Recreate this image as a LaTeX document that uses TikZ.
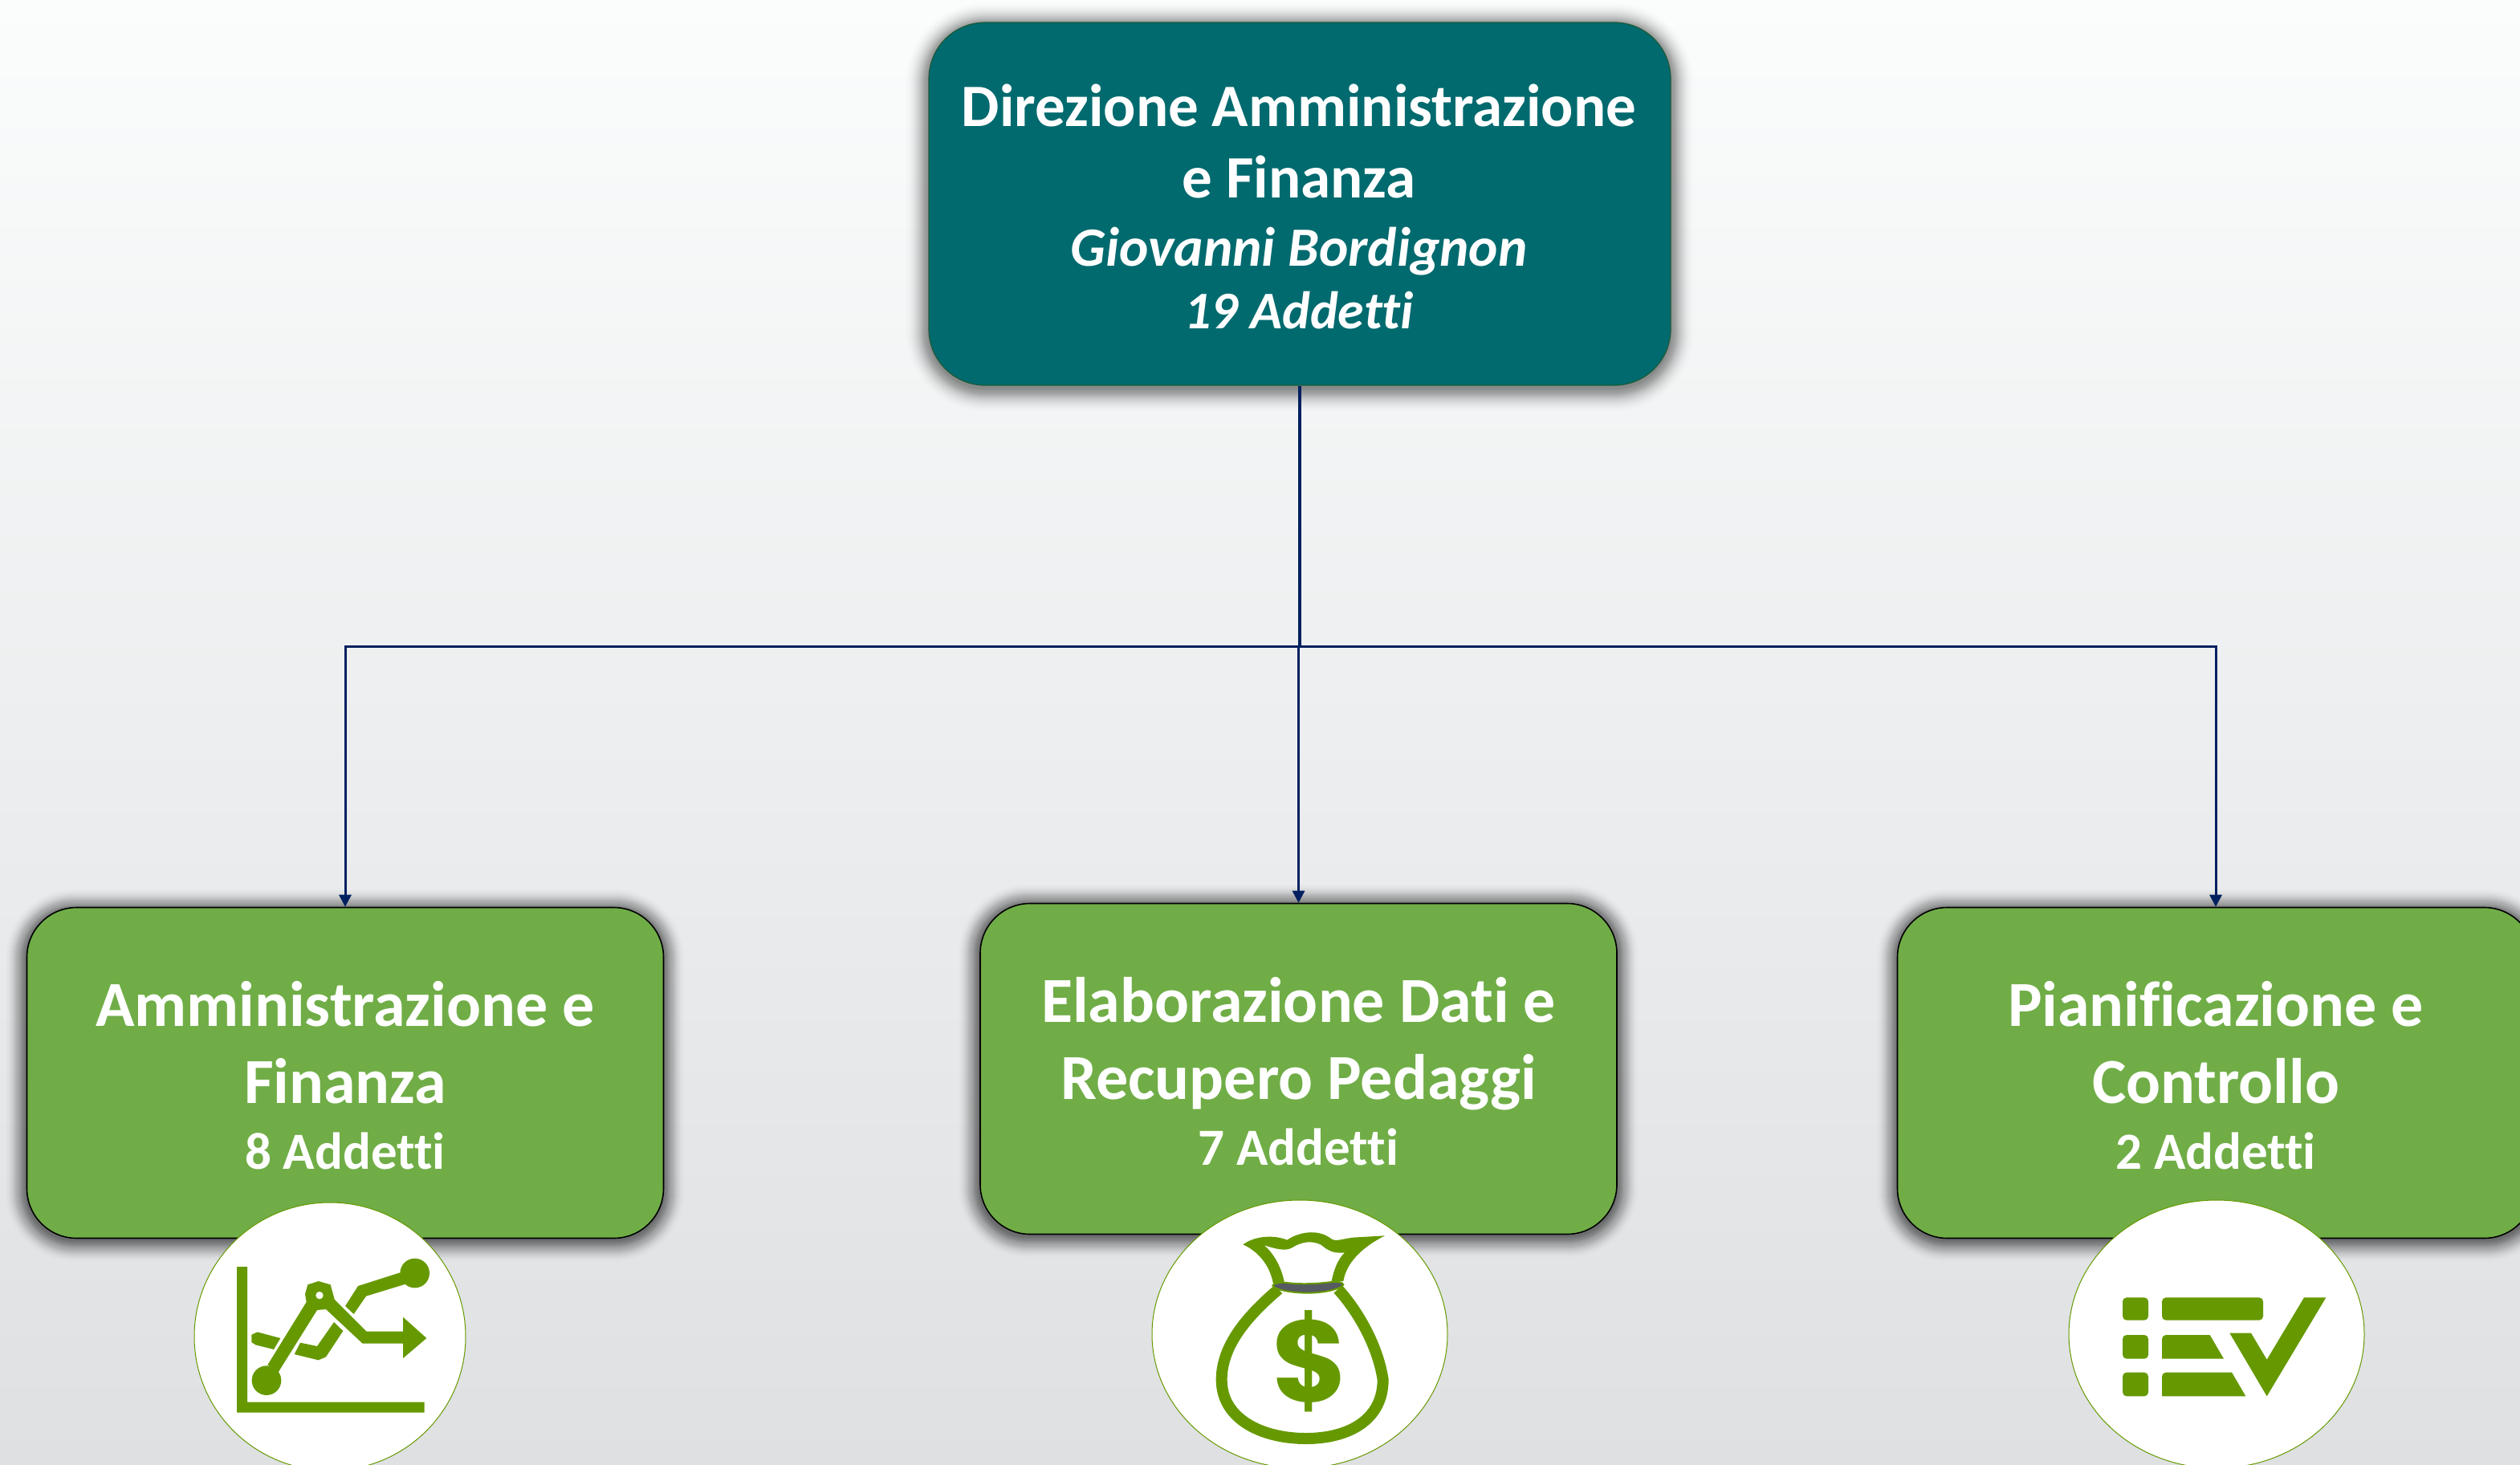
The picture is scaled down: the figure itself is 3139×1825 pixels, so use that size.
\documentclass[tikz,border=0pt]{standalone}
\usepackage{fontspec}
\setmainfont[Ligatures=NoCommon]{Carlito}
\newfontfamily\dollarfont{Poppins}
\definecolor{teal1}{HTML}{006A6E}
\definecolor{tealedge}{HTML}{1F5B3A}
\definecolor{leaf}{HTML}{70AD47}
\definecolor{icon}{HTML}{669900}
\definecolor{navy}{HTML}{002060}
\definecolor{bgtop}{HTML}{FBFCFC}
\definecolor{bgbot}{HTML}{DEE0E2}
\definecolor{neck}{HTML}{565A63}
\newcommand{\softshadow}[7]{% x0 y0 x1 y1 radius extent colour-opacity
  \foreach \i in {1,...,#6}{
    \pgfmathsetmacro{\layeropacity}{2*#7*(1-\i/(#6+1))}
    \fill[black,opacity=\layeropacity,rounded corners=#5*0.5pt+\i*0.5pt] ({#1-\i},{#2-\i}) rectangle ({#3+\i},{#4+\i});
  }}
\usetikzlibrary{arrows.meta,shapes.geometric}
\tikzset{
  headbox/.style={draw=tealedge,line width=0.6pt,fill=teal1,rounded corners=35pt,minimum width=462pt,minimum height=226pt,inner sep=0pt},
  deptbox/.style={draw=black,line width=0.8pt,fill=leaf,rounded corners=31pt,minimum width=396.5pt,minimum height=206pt,inner sep=0pt},
  disc/.style={draw=icon,line width=0.5pt,fill=white,ellipse,inner sep=0pt},
  conn/.style={draw=navy,line width=1.5pt},
  connarrow/.style={conn,-{Triangle[length=7.5pt,width=7.5pt]}},
  boxtext/.style={text=white,align=center,inner sep=0pt,font=\bfseries},
  iconscope/.style={x=0.16667pt,y=-0.16667pt}
}
\begin{document}
\begin{tikzpicture}[x=0.5pt,y=-0.5pt]
\useasboundingbox (0,0) rectangle (3139,1825);
\clip (0,0) rectangle (3139,1825);
\shade[top color=bgtop,bottom color=bgbot] (0,0) rectangle (3139,1825);

\softshadow{1157}{32}{2081}{484}{70}{30}{0.016}
\softshadow{33}{1134}{826}{1545}{60}{28}{0.023}
\softshadow{1220}{1128}{2014}{1540}{60}{28}{0.023}
\softshadow{2364}{1134}{3157}{1545}{60}{28}{0.023}

\coordinate (junction) at (1619,805);
\coordinate (midjunction) at (1617.5,805);

\node[headbox] (head) at (1619,254) {};
\node[deptbox] (dleft) at (430,1336.5) {};
\node[deptbox] (dmid) at (1617.5,1331.5) {};
\node[deptbox] (dright) at (2760,1336.5) {};

\draw[conn,line width=2pt] (head.south) -- (junction);
\draw[connarrow] (junction) -| (dleft.north);
\draw[connarrow] (junction) -| (dright.north);
\draw[connarrow] (midjunction) -- (dmid.north);

\node[boxtext,anchor=base] (t1) at (1618,157) {\fontsize{37.5}{37.5}\selectfont Direzione Amministrazione};
\node[boxtext,anchor=base] (t2) at (1618,246) {\fontsize{37.5}{37.5}\selectfont e Finanza};
\node[boxtext,anchor=base] (t3) at (1618,331) {\fontsize{34.5}{34.5}\selectfont\itshape Giovanni Bordignon};
\node[boxtext,anchor=base] (t4) at (1618,409) {\fontsize{33}{33}\selectfont\itshape 19 Addetti};

\node[boxtext,anchor=base] (a1) at (430,1278) {\fontsize{40}{40}\selectfont Amministrazione e};
\node[boxtext,anchor=base] (a2) at (430,1374) {\fontsize{40}{40}\selectfont Finanza};
\node[boxtext,anchor=base] (a3) at (430,1456) {\fontsize{32.5}{32.5}\selectfont 8 Addetti};

\node[boxtext,anchor=base] (b1) at (1617.5,1273) {\fontsize{40}{40}\selectfont Elaborazione Dati e};
\node[boxtext,anchor=base] (b2) at (1617.5,1369) {\fontsize{40}{40}\selectfont Recupero Pedaggi};
\node[boxtext,anchor=base] (b3) at (1617.5,1451) {\fontsize{32.5}{32.5}\selectfont 7 Addetti};

\node[boxtext,anchor=base] (c1) at (2760,1278) {\fontsize{40}{40}\selectfont Pianificazione e};
\node[boxtext,anchor=base] (c2) at (2760,1374) {\fontsize{40}{40}\selectfont Controllo};
\node[boxtext,anchor=base] (c3) at (2760,1456) {\fontsize{32.5}{32.5}\selectfont 2 Addetti};

\node[disc,minimum width=169pt,minimum height=167pt] (cleft) at (411,1665) {};
\node[disc,minimum width=184pt,minimum height=167pt] (cmid) at (1619,1662) {};
\node[disc,minimum width=184pt,minimum height=167pt] (cright) at (2761,1662) {};

% chart icon
\begin{scope}[shift={(200,1452)},iconscope]
\fill[icon] (285,378) -- (324,378) -- (324,884) -- (986,884) -- (986,923) -- (285,923) -- cycle;
\fill[icon] (396,803) circle[radius=55];
\fill[icon] (950,402) circle[radius=55];
\fill[icon] (400,745) -- (545,510) -- (540,480) -- (550,445) -- (590,432) -- (635,445) -- (650,500) -- (770,620) -- (906,620) -- (906,566) -- (994,645) -- (906,720) -- (906,665) -- (755,665) -- (618,537) -- (585,540) -- (440,772) -- cycle;
\fill[white] (594,485) circle[radius=14];
\fill[icon] (340,632) -- (362,622) -- (448,645) -- (423,687) -- (355,670) -- (340,660) -- cycle;
\fill[icon] (522,662) -- (585,675) -- (648,585) -- (682,618) -- (618,715) -- (590,727) -- (500,705) -- cycle;
\fill[icon] (690,525) -- (738,450) -- (895,400) -- (915,443) -- (768,488) -- (722,555) -- cycle;
\end{scope}

% money bag icon
\begin{scope}[shift={(1400,1452)},iconscope]
\draw[icon,line width=7pt] (578,462) .. controls (450,570) and (365,680) .. (365,800) .. controls (365,950) and (520,1020) .. (680,1020) .. controls (840,1020) and (968,950) .. (968,800) .. controls (950,680) and (880,550) .. (800,462);
\fill[icon] (445,295) .. controls (490,262) and (560,258) .. (610,278) .. controls (650,250) and (720,235) .. (770,270) .. controls (790,290) and (820,270) .. (870,268) -- (975,262) .. controls (880,310) and (830,370) .. (820,432) -- (775,436) .. controls (785,385) and (800,350) .. (825,325) .. controls (780,330) and (760,315) .. (735,295) .. controls (700,280) and (670,285) .. (640,300) .. controls (610,320) and (590,318) .. (525,298) .. controls (570,340) and (590,390) .. (600,438) -- (558,442) .. controls (545,370) and (500,320) .. (445,295) -- cycle;
\fill[neck,draw=icon,line width=1pt] (556,448) .. controls (560,440) and (590,435) .. (600,437) .. controls (660,445) and (720,442) .. (775,435) .. controls (790,433) and (820,435) .. (820,445) .. controls (815,458) and (760,475) .. (690,476) .. controls (620,476) and (560,462) .. (556,448) -- cycle;
\node[text=icon,draw=none,font=\dollarfont\bfseries\fontsize{72}{72}\selectfont,inner sep=0pt] (dollar) at (697,730) {\$};
\end{scope}

% checklist icon
\begin{scope}[shift={(2540,1452)},iconscope]
\fill[icon,rounded corners=2.5pt] (312,493) rectangle (408,578);
\fill[icon,rounded corners=2.5pt] (312,633) rectangle (408,722);
\fill[icon,rounded corners=2.5pt] (312,773) rectangle (408,862);
\fill[icon,rounded corners=2.5pt] (459,493) rectangle (837,578);
\fill[icon,rounded corners=2.5pt] (459,722) -- (459,633) -- (560,633) [sharp corners] -- (638,633) -- (690,722) -- cycle;
\fill[icon,rounded corners=2.5pt] (459,862) -- (459,773) -- (620,773) [sharp corners] -- (720,773) -- (772,862) -- cycle;
\fill[icon] (712,626) -- (792,626) -- (851,725) -- (990,493) -- (1072,493) -- (851,862) -- cycle;
\end{scope}
\end{tikzpicture}
\end{document}
